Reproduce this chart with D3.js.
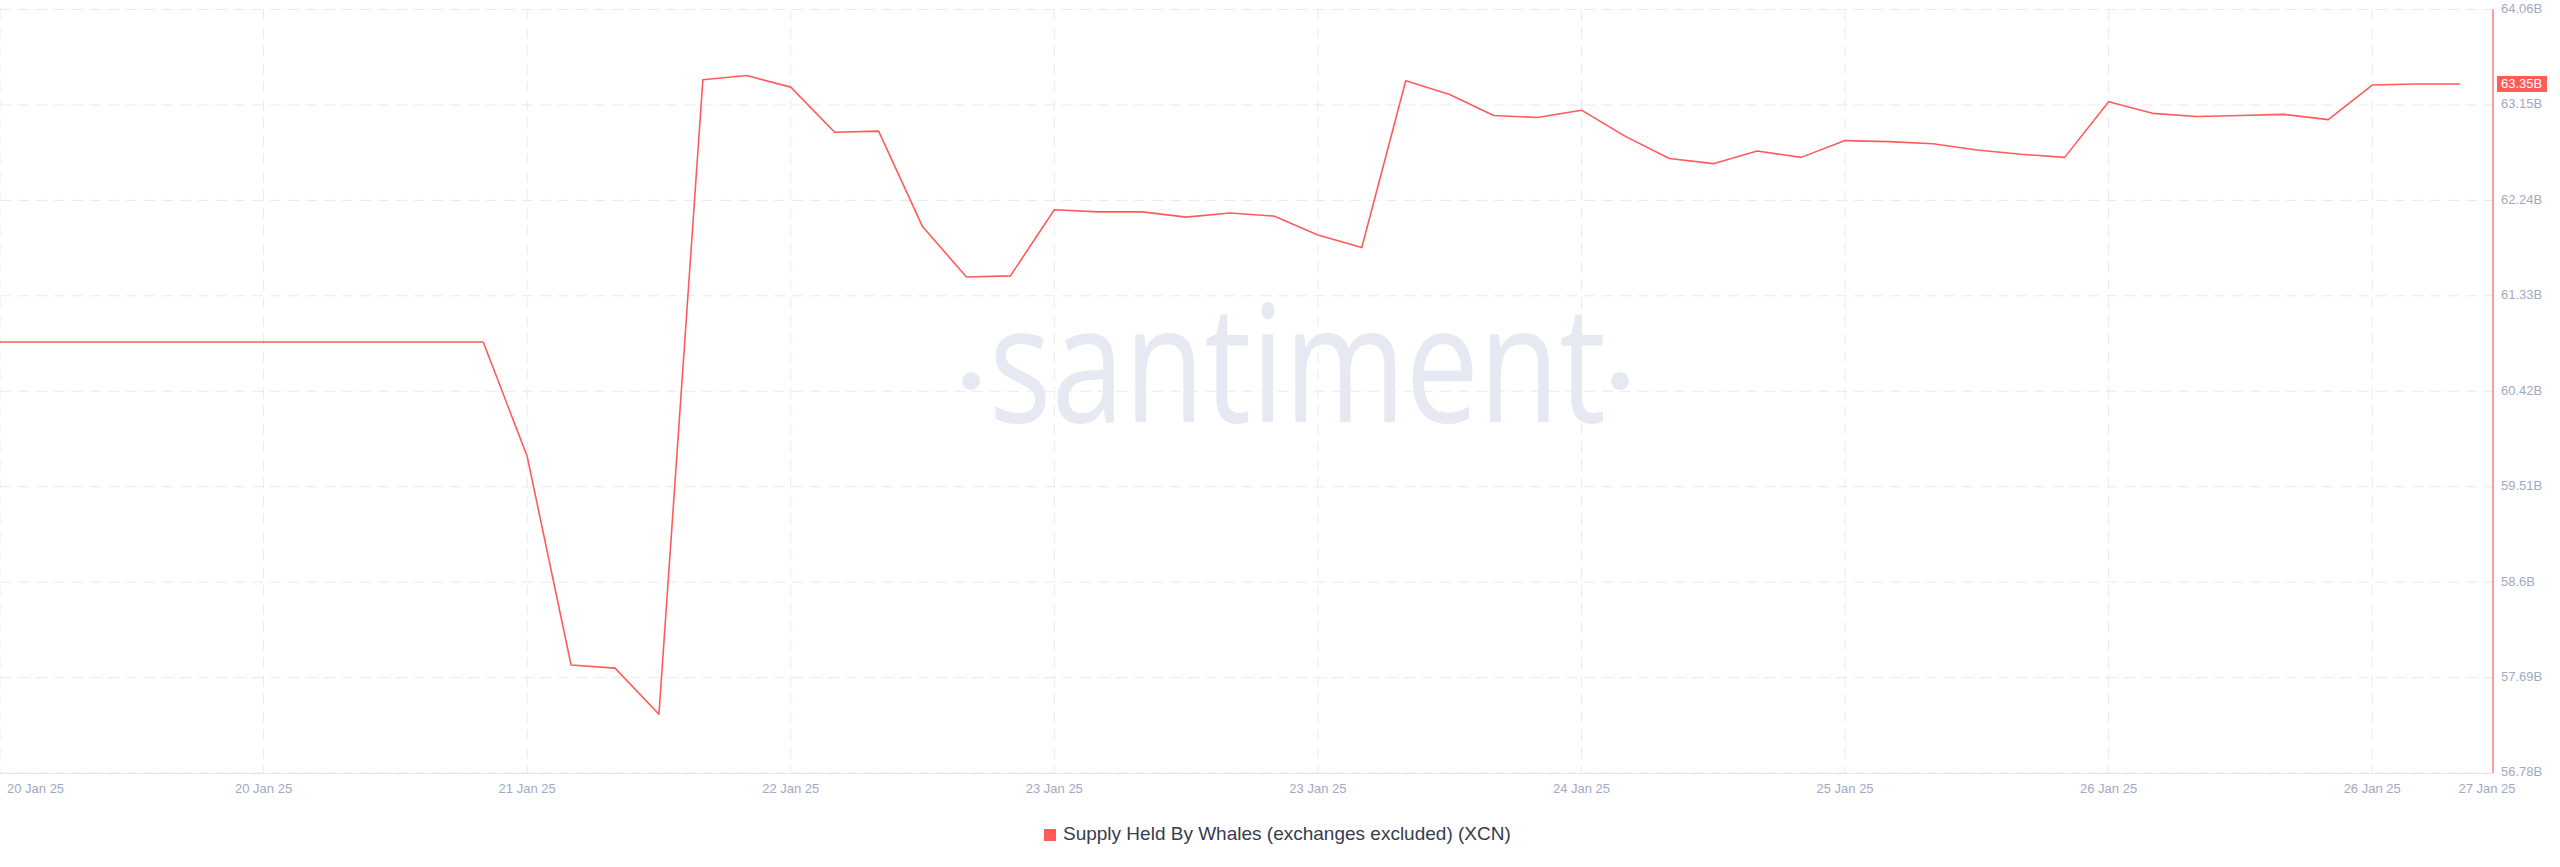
<!DOCTYPE html>
<html>
<head>
<meta charset="utf-8">
<script src="https://cdn.jsdelivr.net/npm/d3@7"></script>
<style>
body { margin: 0; background: #fff; }
svg text { font-family: "Liberation Sans", Arial, sans-serif; }
.grid line { stroke: #e8eaf3; stroke-width: 1; stroke-dasharray: 11,7; }
.tickLabel { fill: #a1a9c2; font-size: 13px; }
</style>
</head>
<body>
<svg id="chart" width="2560" height="867"></svg>
<script>
// supply held by whales, in billions XCN, one value every 3 hours from 20 Jan 25 00:00 UTC
const start = Date.UTC(2025, 0, 20, 0);
const stepHours = 3;
const whaleSupply = [
    60.89, 60.89, 60.89, 60.89, 60.89, 60.89, 60.89, 60.89, 60.89, 60.89, 60.89, 60.89,
    59.80, 57.81, 57.78, 57.34, 63.39, 63.43, 63.32, 62.89, 62.90, 61.99, 61.51, 61.52,
    62.15, 62.13, 62.13, 62.08, 62.12, 62.09, 61.91, 61.79, 63.38, 63.25, 63.05, 63.03,
    63.10, 62.85, 62.64, 62.59, 62.71, 62.65, 62.81, 62.80, 62.78, 62.72, 62.68, 62.65,
    63.18, 63.07, 63.04, 63.05, 63.06, 63.01, 63.34, 63.35, 63.35
];

const yTicks = [56.78, 57.69, 58.6, 59.51, 60.42, 61.33, 62.24, 63.15, 64.06];
const xTicks = ["2025-01-20T00:00Z", "2025-01-20T18:00Z", "2025-01-21T12:00Z", "2025-01-22T06:00Z",
    "2025-01-23T00:00Z", "2025-01-23T18:00Z", "2025-01-24T12:00Z", "2025-01-25T06:00Z",
    "2025-01-26T00:00Z", "2025-01-26T18:00Z"];
const xEnd = "2025-01-27T02:15Z";
const seriesName = "Supply Held By Whales (exchanges excluded) (XCN)";
const lineColor = "#ff5b5b";

const data = whaleSupply.map((v, i) => ({date: new Date(start + i * stepHours * 3600000), value: v}));

const plotRight = 2493, plotTop = 9.5, plotBottom = 773;

const x = d3.scaleUtc()
    .domain([new Date(start), new Date(xEnd)])
    .range([0, plotRight]);

const y = d3.scaleLinear()
    .domain([yTicks[0], yTicks[yTicks.length - 1]])
    .range([plotBottom, plotTop]);

const fmtDate = d3.utcFormat("%d %b %y");
const fmtVal = v => d3.format(".2~f")(v) + "B";

const svg = d3.select("#chart");

// watermark
const wm = svg.append("g").attr("class", "watermark").attr("fill", "#e6e8f2");
wm.append("text")
    .attr("x", 989)
    .attr("y", 422)
    .attr("font-size", 163)
    .style("font-family", "'Open Sans', sans-serif")
    .attr("textLength", 617)
    .attr("lengthAdjust", "spacingAndGlyphs")
    .text("santiment");
wm.selectAll("circle")
    .data([971, 1620])
    .enter()
    .append("circle")
    .attr("cx", d => d)
    .attr("cy", 381)
    .attr("r", 9);

// grid
const grid = svg.append("g").attr("class", "grid");

grid.selectAll(".hgrid")
    .data(yTicks)
    .enter()
    .append("line")
    .attr("class", "hgrid")
    .attr("x1", 0)
    .attr("x2", plotRight)
    .attr("y1", d => y(d))
    .attr("y2", d => y(d));

grid.selectAll(".vgrid")
    .data(xTicks)
    .enter()
    .append("line")
    .attr("class", "vgrid")
    .attr("x1", d => x(new Date(d)))
    .attr("x2", d => x(new Date(d)))
    .attr("y1", plotTop)
    .attr("y2", plotBottom);

// bottom axis
svg.append("line")
    .attr("x1", 0)
    .attr("x2", plotRight)
    .attr("y1", plotBottom + 0.5)
    .attr("y2", plotBottom + 0.5)
    .attr("stroke", "#e3e6ef");

svg.selectAll(".xLabel")
    .data(xTicks.concat([xEnd]))
    .enter()
    .append("text")
    .attr("class", "tickLabel")
    .attr("x", (d, i) => i === 0 ? 7 : (i === xTicks.length ? x(new Date(d)) - 6 : x(new Date(d))))
    .attr("y", 790)
    .attr("dominant-baseline", "middle")
    .attr("text-anchor", (d, i) => i === 0 ? "start" : "middle")
    .text(d => fmtDate(new Date(d)));

// right axis
svg.append("line")
    .attr("x1", plotRight)
    .attr("x2", plotRight)
    .attr("y1", plotTop)
    .attr("y2", plotBottom)
    .attr("stroke", lineColor)
    .attr("stroke-width", 1.2);

svg.selectAll(".yLabel")
    .data(yTicks)
    .enter()
    .append("text")
    .attr("class", "tickLabel")
    .attr("x", plotRight + 8)
    .attr("y", d => y(d))
    .attr("dominant-baseline", "middle")
    .text(fmtVal);

// series
svg.append("path")
    .datum(data)
    .attr("fill", "none")
    .attr("stroke", lineColor)
    .attr("stroke-width", 1.6)
    .attr("stroke-linejoin", "round")
    .attr("d", d3.line().x(d => x(d.date)).y(d => y(d.value)));

// last value badge
const last = data[data.length - 1];
const badge = svg.append("g").attr("transform", `translate(${plotRight + 4},${y(last.value)})`);
badge.append("rect")
    .attr("x", 0)
    .attr("y", -8)
    .attr("width", 50)
    .attr("height", 16)
    .attr("fill", lineColor);
badge.append("text")
    .attr("x", 4)
    .attr("y", 0.5)
    .attr("dominant-baseline", "middle")
    .attr("fill", "#fff")
    .attr("font-size", 13)
    .text(fmtVal(last.value));

// legend
const legend = svg.append("g").attr("transform", "translate(1044,835)");
legend.append("rect")
    .attr("x", 0)
    .attr("y", -6)
    .attr("width", 12)
    .attr("height", 12)
    .attr("fill", lineColor);
legend.append("text")
    .attr("x", 19)
    .attr("y", 0)
    .attr("dominant-baseline", "middle")
    .attr("fill", "#383c4f")
    .attr("font-size", 19)
    .text(seriesName);
</script>
</body>
</html>
